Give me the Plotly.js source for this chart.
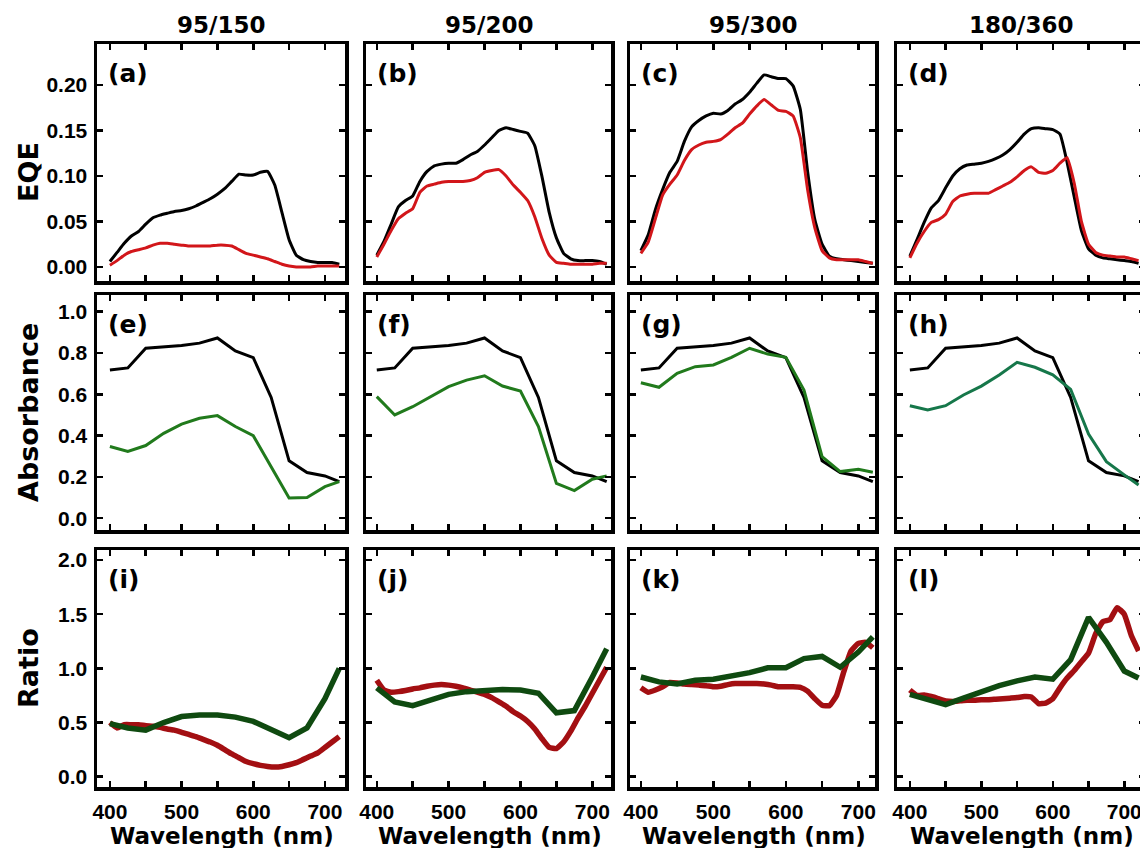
<!DOCTYPE html>
<html>
<head>
<meta charset="utf-8">
<script src="https://cdn.plot.ly/plotly-3.0.1.min.js"></script>
<style>
html,body{margin:0;padding:0;overflow:hidden;background:#fff;}
#chart{width:1160px;height:848px;}
</style>
</head>
<body>
<div id="chart"></div>
<script>
// ---------------- data ----------------
const columnTitles = ['95/150', '95/200', '95/300', '180/360'];
const panelLabels = ['(a)','(b)','(c)','(d)','(e)','(f)','(g)','(h)','(i)','(j)','(k)','(l)'];
const rowTitles = ['EQE', 'Absorbance', 'Ratio'];
const xTitle = 'Wavelength (nm)';

// fine wavelength grid (EQE and EQE ratio)
const wl10 = [400,410,420,430,440,450,460,470,480,490,500,510,520,530,540,550,560,570,580,590,600,610,620,630,640,650,660,670,680,690,700,710,720];
// coarse wavelength grid (absorbance and absorbance ratio)
const wl25 = [400,425,450,475,500,525,550,575,600,625,650,675,700,720];

// EQE, black = reference, red = sample
const eqeBlackA = [0.006,0.016,0.026,0.034,0.039,0.047,0.054,0.057,0.059,0.061,0.062,0.064,0.067,0.071,0.075,0.080,0.086,0.094,0.102,0.101,0.101,0.104,0.105,0.090,0.060,0.030,0.013,0.008,0.006,0.005,0.005,0.005,0.003];
const eqeRedA   = [0.002,0.007,0.013,0.017,0.019,0.021,0.024,0.026,0.026,0.025,0.024,0.023,0.023,0.023,0.023,0.024,0.024,0.023,0.019,0.015,0.013,0.011,0.009,0.006,0.003,0.001,0.000,0.000,0.000,0.001,0.001,0.001,0.001];
const eqeBlackB = [0.013,0.028,0.047,0.066,0.073,0.078,0.094,0.105,0.111,0.113,0.114,0.114,0.118,0.123,0.127,0.134,0.142,0.150,0.153,0.151,0.149,0.147,0.133,0.099,0.060,0.032,0.015,0.009,0.007,0.007,0.007,0.006,0.003];
const eqeRedB   = [0.011,0.025,0.040,0.053,0.059,0.064,0.082,0.089,0.091,0.093,0.094,0.094,0.094,0.095,0.098,0.104,0.106,0.107,0.100,0.090,0.082,0.073,0.055,0.031,0.013,0.005,0.004,0.003,0.003,0.003,0.003,0.004,0.004];
const eqeBlackC = [0.018,0.035,0.063,0.085,0.104,0.116,0.138,0.154,0.161,0.166,0.169,0.168,0.172,0.179,0.184,0.192,0.202,0.211,0.209,0.207,0.207,0.199,0.173,0.105,0.052,0.025,0.012,0.009,0.008,0.007,0.006,0.005,0.004];
const eqeRedC   = [0.015,0.027,0.053,0.079,0.091,0.101,0.117,0.129,0.134,0.137,0.138,0.140,0.146,0.153,0.158,0.168,0.177,0.184,0.178,0.172,0.171,0.166,0.142,0.085,0.043,0.018,0.010,0.008,0.008,0.008,0.008,0.006,0.004];
const eqeBlackD = [0.012,0.030,0.049,0.065,0.073,0.087,0.100,0.108,0.112,0.113,0.114,0.116,0.119,0.123,0.129,0.137,0.146,0.152,0.153,0.152,0.151,0.146,0.115,0.077,0.040,0.020,0.013,0.010,0.009,0.008,0.007,0.006,0.004];
const eqeRedD   = [0.010,0.026,0.039,0.049,0.052,0.058,0.072,0.078,0.080,0.081,0.081,0.081,0.085,0.089,0.093,0.099,0.106,0.110,0.104,0.103,0.106,0.114,0.120,0.092,0.050,0.025,0.016,0.013,0.012,0.011,0.011,0.009,0.007];

// Absorbance, black = reference film (same in all four panels), green = sample
const absBlack  = [0.718,0.728,0.823,0.830,0.836,0.848,0.873,0.810,0.778,0.585,0.278,0.221,0.205,0.177];
const absGreenE = [0.347,0.323,0.352,0.411,0.456,0.484,0.497,0.444,0.400,0.250,0.098,0.100,0.153,0.177];
const absGreenF = [0.589,0.500,0.540,0.589,0.637,0.669,0.690,0.640,0.616,0.444,0.169,0.134,0.189,0.205];
const absGreenG = [0.656,0.634,0.702,0.734,0.742,0.779,0.823,0.795,0.779,0.621,0.298,0.226,0.237,0.223];
const absGreenH = [0.545,0.524,0.545,0.597,0.640,0.694,0.755,0.731,0.694,0.624,0.408,0.274,0.210,0.161];

// Ratio, red = EQE ratio, green = absorbance ratio
const ratioRedI   = [0.50,0.45,0.48,0.48,0.48,0.47,0.465,0.455,0.44,0.43,0.41,0.39,0.37,0.345,0.32,0.29,0.25,0.21,0.175,0.14,0.12,0.105,0.095,0.09,0.095,0.11,0.13,0.16,0.19,0.22,0.27,0.32,0.37];
const ratioRedJ   = [0.89,0.80,0.78,0.785,0.795,0.81,0.82,0.835,0.845,0.85,0.845,0.835,0.82,0.80,0.78,0.76,0.73,0.69,0.65,0.60,0.56,0.51,0.44,0.35,0.27,0.26,0.32,0.42,0.54,0.65,0.77,0.89,1.01];
const ratioRedK   = [0.82,0.78,0.80,0.83,0.87,0.865,0.855,0.85,0.845,0.84,0.83,0.835,0.85,0.86,0.86,0.86,0.86,0.855,0.845,0.83,0.83,0.83,0.825,0.79,0.72,0.66,0.655,0.75,0.97,1.16,1.23,1.24,1.19];
const ratioRedL   = [0.80,0.75,0.755,0.74,0.72,0.70,0.695,0.70,0.705,0.705,0.71,0.71,0.715,0.72,0.725,0.73,0.74,0.735,0.675,0.68,0.72,0.82,0.91,0.98,1.06,1.14,1.32,1.43,1.45,1.56,1.50,1.30,1.16];
const ratioGreenI = [0.49,0.45,0.43,0.50,0.555,0.57,0.57,0.55,0.51,0.44,0.36,0.45,0.72,1.00];
const ratioGreenJ = [0.82,0.69,0.655,0.71,0.76,0.785,0.80,0.805,0.80,0.77,0.59,0.61,0.92,1.18];
const ratioGreenK = [0.92,0.875,0.855,0.89,0.90,0.925,0.96,1.005,1.005,1.09,1.11,1.01,1.15,1.29];
const ratioGreenL = [0.76,0.715,0.665,0.725,0.785,0.84,0.885,0.92,0.90,1.08,1.47,1.24,0.975,0.91];

const xTickVals = [400,450,500,550,600,650,700];
const xTickText = ['400','','500','','600','','700'];
const yTickVals = [[0,0.05,0.10,0.15,0.20],[0,0.2,0.4,0.6,0.8,1.0],[0,0.5,1.0,1.5,2.0]];
const yTickText = [['0.00','0.05','0.10','0.15','0.20'],['0.0','0.2','0.4','0.6','0.8','1.0'],['0.0','0.5','1.0','1.5','2.0']];

// ---------------- styling ----------------
const W = 1160, H = 848;
const colPx = [[97,345],[366,611],[630,875],[897,1145]];
const rowPx = [[44,281],[295,530],[550,787]];
const xRanges = [[382,728],[385,726],[385,723],[382,729]];
const yRanges = [[-0.0154,0.245],[-0.057,1.081],[-0.095,2.092]];

const RED = '#d2161a', BLACK = '#000000', GREEN = '#217a1c', TEAL = '#16774a';
const DRED = '#a30f12', DGREEN = '#0f4a10';

const traces = [];
function add(panel, x, y, color, width) {
  const n = panel + 1;
  traces.push({
    type: 'scatter', mode: 'lines', x: x, y: y,
    xaxis: 'x' + n, yaxis: 'y' + n,
    line: {color: color, width: width, shape: 'spline', smoothing: 0.4},
    showlegend: false, hoverinfo: 'skip'
  });
}
function addLin(panel, x, y, color, width) {
  const n = panel + 1;
  traces.push({
    type: 'scatter', mode: 'lines', x: x, y: y,
    xaxis: 'x' + n, yaxis: 'y' + n,
    line: {color: color, width: width},
    showlegend: false, hoverinfo: 'skip'
  });
}

const eqeBlacks = [eqeBlackA, eqeBlackB, eqeBlackC, eqeBlackD];
const eqeReds = [eqeRedA, eqeRedB, eqeRedC, eqeRedD];
const absGreens = [absGreenE, absGreenF, absGreenG, absGreenH];
const ratioReds = [ratioRedI, ratioRedJ, ratioRedK, ratioRedL];
const ratioGreens = [ratioGreenI, ratioGreenJ, ratioGreenK, ratioGreenL];

for (let c = 0; c < 4; c++) {
  add(c, wl10, eqeBlacks[c], BLACK, 3);
  add(c, wl10, eqeReds[c], RED, 3);
  addLin(4 + c, wl25, absBlack, BLACK, 3);
  addLin(4 + c, wl25, absGreens[c], c === 3 ? TEAL : GREEN, 3);
  add(8 + c, wl10, ratioReds[c], DRED, 5.5);
  addLin(8 + c, wl25, ratioGreens[c], DGREEN, 5.5);
}

const tickFont = {family: 'Liberation Sans, Arial, sans-serif', size: 21, color: '#000', weight: 'bold'};
const layout = {
  width: W, height: H,
  margin: {l: 0, r: 0, t: 0, b: 0},
  paper_bgcolor: '#fff', plot_bgcolor: '#fff',
  showlegend: false,
  annotations: []
};

for (let r = 0; r < 3; r++) {
  for (let c = 0; c < 4; c++) {
    const n = r * 4 + c + 1;
    layout['xaxis' + n] = {
      domain: [colPx[c][0] / W, colPx[c][1] / W],
      anchor: 'y' + n,
      range: xRanges[c],
      tickmode: 'array', tickvals: xTickVals, ticktext: xTickText,
      ticks: 'inside', ticklen: 6, tickwidth: 2.5, tickcolor: '#000',
      showline: true, linecolor: '#000', linewidth: 3.5, mirror: 'ticks',
      showgrid: false, zeroline: false,
      showticklabels: r === 2, tickfont: tickFont, ticklabelstandoff: 3
    };
    layout['yaxis' + n] = {
      domain: [1 - rowPx[r][1] / H, 1 - rowPx[r][0] / H],
      anchor: 'x' + n,
      range: yRanges[r],
      tickmode: 'array', tickvals: yTickVals[r], ticktext: yTickText[r],
      ticks: 'inside', ticklen: 6, tickwidth: 2.5, tickcolor: '#000',
      showline: true, linecolor: '#000', linewidth: 3.5, mirror: 'ticks',
      showgrid: false, zeroline: false,
      showticklabels: c === 0, tickfont: tickFont, ticklabelstandoff: 2
    };
    layout.annotations.push({
      text: panelLabels[n - 1], xref: 'x' + n + ' domain', yref: 'y' + n + ' domain',
      x: 0, y: 1, xanchor: 'left', yanchor: 'middle', xshift: 9, yshift: -29,
      showarrow: false,
      font: {family: 'DejaVu Sans, sans-serif', size: 25, color: '#000', weight: 'bold'}
    });
  }
}

for (let c = 0; c < 4; c++) {
  layout.annotations.push({
    text: columnTitles[c], xref: 'x' + (c + 1) + ' domain', yref: 'paper',
    x: 0.5, y: 1 - 25 / H, xanchor: 'center', yanchor: 'middle', showarrow: false,
    font: {family: 'DejaVu Sans, sans-serif', size: 23, color: '#000', weight: 'bold'}
  });
  layout.annotations.push({
    text: xTitle, xref: 'x' + (9 + c) + ' domain', yref: 'paper',
    x: 0.5, y: 0, xanchor: 'center', yanchor: 'bottom', showarrow: false, xshift: 1, yshift: -2,
    borderpad: 0,
    font: {family: 'DejaVu Sans, sans-serif', size: 23, color: '#000', weight: 'bold'}
  });
}
const rowTitleY = [172, 413, 668];
for (let r = 0; r < 3; r++) {
  layout.annotations.push({
    text: rowTitles[r], xref: 'paper', yref: 'paper',
    x: 28 / W, y: 1 - rowTitleY[r] / H, xanchor: 'center', yanchor: 'middle',
    textangle: -90, showarrow: false,
    font: {family: 'DejaVu Sans, sans-serif', size: 27, color: '#000', weight: 'bold'}
  });
}

Plotly.newPlot('chart', traces, layout, {staticPlot: true, displayModeBar: false});
</script>
</body>
</html>
